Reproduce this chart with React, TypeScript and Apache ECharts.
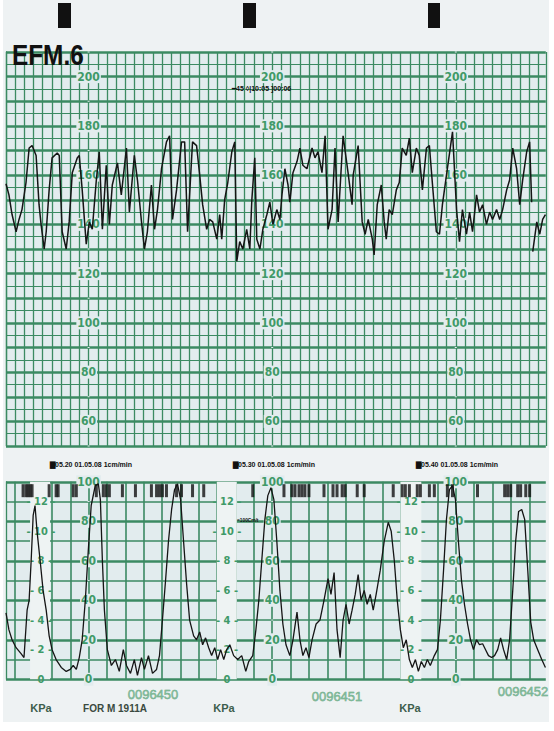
import React, { useEffect, useRef } from "react";
import * as echarts from "echarts";

// ---- Fetal heart rate trace (time in minutes, bpm) ----
const fhrTimeA = [
  0.0, 0.16, 0.33, 0.55, 0.71, 0.87, 1.09, 1.26, 1.42, 1.64, 1.8, 1.91, 2.08, 2.19, 2.35, 2.51, 2.79, 2.9,
  3.06, 3.28, 3.44, 3.61, 3.88, 3.99, 4.15, 4.37, 4.54, 4.7, 4.92, 5.08, 5.25, 5.46, 5.63, 5.79, 6.07, 6.28,
  6.56, 6.72, 6.99, 7.16, 7.38, 7.54, 7.7, 7.92, 8.09, 8.25, 8.47, 8.74, 8.91, 9.07, 9.29, 9.56, 9.73, 9.89,
  10.16, 10.38, 10.55, 10.71, 10.93, 11.09, 11.26, 11.48, 11.64, 11.75, 11.91, 12.08, 12.3, 12.46, 12.57,
  12.73, 12.9, 13.11, 13.28, 13.39, 13.55, 13.66, 13.83, 13.99, 14.21, 14.37, 14.54, 14.75, 14.92, 15.03,
  15.19, 15.36, 15.46, 15.63, 15.85, 16.01, 16.17, 16.39, 16.67, 16.83, 16.99, 17.21, 17.38, 17.54, 17.76,
  17.92, 18.09, 18.36, 18.63, 18.85, 18.91, 19.18, 19.4, 19.56, 19.73, 19.95, 20.05, 20.22, 20.44, 20.6,
  20.71, 20.87, 21.04, 21.26, 21.42, 21.58, 21.8, 21.97, 22.13, 22.35, 22.51, 22.68, 22.9, 23.06, 23.22,
  23.44, 23.61, 23.77, 24.04, 24.32, 24.54, 24.7, 24.86, 25.08, 25.25, 25.41, 25.63, 25.79, 25.96, 26.17,
  26.34, 26.5, 26.72, 26.89, 27.05, 27.27, 27.43, 27.6, 27.81, 27.98, 28.14, 28.36, 28.52, 28.63,
];
const fhrBpmA = [
  156.5, 152, 144, 137, 142, 146, 157, 171, 172, 168, 148, 140, 130, 137, 154, 167, 169, 168,
  137, 130, 141, 161, 167, 168, 154, 132, 141, 138, 158, 169.5, 138, 164, 140, 156, 165, 152,
  171, 145, 168, 158, 141, 130, 137, 156, 138, 146, 162.6, 173.5, 176, 142, 154, 173.5, 173.5, 137,
  173.5, 172, 160, 148, 138, 142, 141, 134, 144, 134, 150, 157, 169.5, 173.5, 125,
  133, 130, 138, 130, 150, 167, 134, 130, 138, 144, 149, 140, 146, 142, 152,
  162.6, 156, 149, 161, 165.5, 171, 164, 162.6, 171, 167, 169.5, 161, 176, 138, 146,
  171, 141, 176, 161, 148, 160, 172, 141, 136, 142, 134, 127.6, 148, 156, 141,
  134, 146, 144, 154, 157, 171, 168, 175, 161, 171, 168, 154, 171, 172, 157,
  137, 136, 148, 162.6, 177.6, 146, 133, 146, 136, 145, 137, 152, 145, 148, 140,
  145, 142, 146, 142, 146, 154, 158, 171, 162.6, 148, 158, 169.5, 173.5, 149,
];
const fhrTimeB = [28.69, 28.91, 29.07, 29.23, 29.38];
const fhrBpmB = [128.9, 141, 136, 142, 144];

// ---- Uterine contraction trace (time in minutes, mmHg scale 0-100) ----
const ucTime = [
  0, 0.16, 0.33, 0.55, 0.82, 0.98, 1.15, 1.26, 1.37, 1.48, 1.58, 1.69, 1.86, 2.02, 2.19, 2.35, 2.51, 2.73,
  3.01, 3.28, 3.5, 3.66, 3.83, 3.99, 4.15, 4.32, 4.48, 4.64, 4.86, 5.03, 5.14, 5.25, 5.36, 5.52, 5.74, 5.96,
  6.17, 6.39, 6.56, 6.78, 6.99, 7.16, 7.38, 7.54, 7.76, 7.98, 8.2, 8.36, 8.52, 8.69, 8.85, 9.02, 9.18, 9.34,
  9.51, 9.67, 9.84, 10.0, 10.22, 10.38, 10.55, 10.71, 10.87, 11.04, 11.2, 11.37, 11.53, 11.69, 11.86, 12.02,
  12.19, 12.4, 12.62, 12.84, 13.06, 13.22, 13.44, 13.61, 13.77, 13.93, 14.1, 14.26, 14.43, 14.59, 14.75,
  14.92, 15.08, 15.25, 15.46, 15.63, 15.85, 16.01, 16.17, 16.34, 16.5, 16.67, 16.89, 17.1, 17.32, 17.54,
  17.7, 17.87, 18.03, 18.2, 18.36, 18.52, 18.69, 18.85, 19.02, 19.18, 19.34, 19.51, 19.67, 19.84, 20.0,
  20.16, 20.38, 20.6, 20.82, 20.98, 21.15, 21.31, 21.48, 21.64, 21.8, 21.97, 22.13, 22.3, 22.46, 22.62,
  22.79, 22.95, 23.11, 23.33, 23.5, 23.66, 23.83, 23.99, 24.15, 24.32, 24.48, 24.64, 24.81, 24.97, 25.14,
  25.3, 25.46, 25.63, 25.79, 25.96, 26.12, 26.28, 26.45, 26.61, 26.78, 26.94, 27.1, 27.27, 27.43, 27.6,
  27.76, 27.92, 28.09, 28.25, 28.42, 28.58, 28.74, 28.96, 29.18, 29.38,
];
const ucValue = [
  33.6, 25, 20, 16, 13, 11, 35, 40, 60, 83, 88, 75, 60, 45, 35, 22, 15, 10,
  6, 4, 5, 7, 5, 11, 20, 40, 65, 88, 98, 99, 91, 60, 35, 15, 7, 10,
  4, 15, 7, 3, 10, 2, 11, 5, 12, 3, 5, 12, 30, 50, 70, 86, 96, 99,
  91, 70, 48, 30, 22, 20, 24, 17.5, 21, 16, 12, 16, 10, 15, 10, 15,
  17.5, 12, 10, 12, 4, 9, 12, 25, 40, 60, 81, 93, 97, 91, 70,
  45, 28, 17.5, 12, 20, 34, 20, 12, 16, 11, 20, 28, 30, 40, 51,
  43, 54, 25, 11, 30, 38, 28, 35, 43, 53, 40, 45, 38, 43, 35,
  43, 55, 70, 79.5, 75, 60, 40, 25, 16, 20, 10, 6, 10, 4, 9,
  6, 10, 7, 12, 15, 30, 55, 81, 96, 98, 91, 70, 50, 38, 28,
  20, 15, 20, 17.5, 18, 15, 12, 11, 12, 15, 21, 15, 10, 20, 45,
  70, 85, 86, 81, 55, 29, 20, 15, 10, 6,
];

// ---- Fetal movement marks (time in minutes) ----
const fmTime = [
  0.93, 1.09, 1.2, 1.31, 1.42, 2.35, 2.73, 2.84, 3.66, 3.83, 4.92, 5.3, 5.46, 5.63, 6.34, 7.05, 7.92, 8.2,
  8.36, 8.52, 8.74, 9.29, 9.56, 10.16, 10.77, 13.44, 15.14, 15.57, 15.74, 15.96, 16.12, 16.28, 16.5, 17.32,
  17.81, 18.03, 18.31, 18.47, 19.13, 19.51, 21.09, 21.58, 21.75, 21.97, 22.4, 22.57, 23.06, 23.33, 24.04,
  24.32, 25.68, 27.16, 27.32, 27.49, 27.87, 28.03, 28.31, 28.52,
];

// ---- Scales / tick labels ----
const fhrLabelTicks = [60, 80, 100, 120, 140, 160, 180, 200];
const ucLabelTicks = [0, 20, 40, 60, 80, 100];
const kpaLabelTicks = [0, 2, 4, 6, 8, 10, 12];
const sectionTimes = ["05.20", "05.30", "05.40"];
const stripNumbers = ["0096450", "0096451", "0096452"];

const GREEN = "#3b8a62";
const LABEL_GREEN = "#3f9a68";
const PAPER = "#e2ecee";
const BAND = "#eef3f3";
const NARROW = '"Liberation Sans Narrow", "DejaVu Sans Condensed", sans-serif';

export default function App() {
  const ref = useRef<HTMLDivElement>(null);

  useEffect(() => {
    if (!ref.current) return;
    const chart = echarts.init(ref.current, undefined, { renderer: "svg" });

    const X0 = 6;
    const PX_PER_MIN = 18.36;
    const XMAX = 29.4;
    const WIDTH = XMAX * PX_PER_MIN;
    const TOP_Y = 52;
    const TOP_H = 394;
    const BOT_Y = 481.8;
    const BOT_H = 197.5;

    const fhrA = fhrTimeA.map((t, i) => [t, fhrBpmA[i]]);
    const fhrB = fhrTimeB.map((t, i) => [t, fhrBpmB[i]]);
    const uc = ucTime.map((t, i) => [t, ucValue[i]]);
    const fm = fmTime.map((t) => [t, 95.5]);

    const labelAxis = (grid: number, min: number, max: number, interval: number, xpx: number, fmt: (v: number) => string, bg: string, size = 12) => ({
      type: "value",
      gridIndex: grid,
      min,
      max,
      interval,
      position: "left",
      offset: -(xpx - X0),
      z: 3,
      axisLine: { show: false },
      axisTick: { show: false },
      splitLine: { show: false },
      axisLabel: {
        show: true,
        margin: 0,
        align: "center",
        verticalAlign: "middle",
        formatter: fmt,
        color: LABEL_GREEN,
        fontFamily: NARROW,
        fontWeight: "bold",
        fontSize: size,
        backgroundColor: bg,
        padding: [1, 1, 0, 1],
        showMinLabel: true,
        showMaxLabel: true,
      },
    });

    const fhrFmt = (v: number) => (fhrLabelTicks.includes(v) ? String(v) : "");
    const ucFmt = (v: number) => (ucLabelTicks.includes(v) ? String(v) : "");
    const kpaFmt = (v: number) => (kpaLabelTicks.includes(v) ? (v === 0 ? String(v) : "- " + v + " -") : "");

    const labelCols = [88.6, 272.2, 455.8];
    const kpaCols = [41, 227, 411];
    const bands = [
      [1.31, 2.4],
      [11.48, 12.57],
      [21.48, 22.62],
    ];

    const yAxes: any[] = [
      {
        type: "value",
        gridIndex: 0,
        min: 50,
        max: 210,
        interval: 10,
        position: "right",
        axisLine: { show: true, lineStyle: { color: GREEN, width: 1.3 } },
        axisTick: { show: false },
        axisLabel: { show: false },
        splitLine: { show: true, lineStyle: { color: GREEN, width: 2.6 } },
        minorTick: { show: false, splitNumber: 2 },
        minorSplitLine: { show: true, lineStyle: { color: GREEN, width: 1 } },
      },
      {
        type: "value",
        gridIndex: 1,
        min: 0,
        max: 100,
        interval: 20,
        position: "right",
        axisLine: { show: true, lineStyle: { color: GREEN, width: 1.3 } },
        axisTick: { show: false },
        axisLabel: { show: false },
        splitLine: { show: true, lineStyle: { color: GREEN, width: 2.6 } },
        minorTick: { show: false, splitNumber: 2 },
        minorSplitLine: { show: true, lineStyle: { color: GREEN, width: 1.6 } },
      },
      {
        type: "value",
        gridIndex: 2,
        min: 0,
        max: 100,
        show: false,
      },
    ];
    labelCols.forEach((c) => yAxes.push(labelAxis(0, 50, 210, 10, c, fhrFmt, PAPER)));
    labelCols.forEach((c) => yAxes.push(labelAxis(1, 0, 100, 10, c, ucFmt, PAPER)));
    kpaCols.forEach((c) => yAxes.push(labelAxis(1, 0, 100 / 7.5, 2, c, kpaFmt, "transparent", 11)));

    const option: any = {
      animation: false,
      backgroundColor: "#ffffff",
      grid: [
        { left: X0, top: TOP_Y, width: WIDTH, height: TOP_H, show: true, backgroundColor: PAPER, borderWidth: 0 },
        { left: X0, top: BOT_Y, width: WIDTH, height: BOT_H, show: true, backgroundColor: PAPER, borderWidth: 0 },
        { left: X0 + PX_PER_MIN / 2, top: BOT_Y, width: 28 * PX_PER_MIN, height: BOT_H, show: false },
      ],
      xAxis: [
        {
          type: "value",
          gridIndex: 0,
          min: 0,
          max: XMAX,
          interval: 0.5,
          axisLine: { show: false },
          axisTick: { show: false },
          axisLabel: { show: false },
          splitLine: { show: true, lineStyle: { color: GREEN, width: 1.3 } },
        },
        {
          type: "value",
          gridIndex: 1,
          min: 0,
          max: XMAX,
          interval: 1,
          axisLine: { show: false },
          axisTick: { show: false },
          axisLabel: { show: false },
          splitLine: { show: false },
        },
        {
          type: "value",
          gridIndex: 2,
          min: 0,
          max: 28,
          interval: 1,
          axisLine: { show: false },
          axisTick: { show: false },
          axisLabel: { show: false },
          splitLine: { show: true, lineStyle: { color: GREEN, width: 1.6 } },
        },
      ],
      yAxis: yAxes,
      series: [
        {
          type: "line",
          name: "bands",
          xAxisIndex: 1,
          yAxisIndex: 1,
          data: [[0, -10]],
          showSymbol: false,
          lineStyle: { opacity: 0 },
          silent: true,
          z: 1,
          markArea: {
            silent: true,
            itemStyle: { color: BAND },
            data: bands.map((b) => [{ xAxis: b[0], yAxis: 0 }, { xAxis: b[1], yAxis: 100 }]),
          },
        },
        {
          type: "line",
          name: "FHR",
          xAxisIndex: 0,
          yAxisIndex: 0,
          data: fhrA,
          showSymbol: false,
          lineStyle: { color: "#151515", width: 1.5 },
          z: 5,
        },
        {
          type: "line",
          name: "FHR2",
          xAxisIndex: 0,
          yAxisIndex: 0,
          data: fhrB,
          showSymbol: false,
          lineStyle: { color: "#151515", width: 1.5 },
          z: 5,
        },
        {
          type: "line",
          name: "UC",
          xAxisIndex: 1,
          yAxisIndex: 1,
          data: uc,
          showSymbol: false,
          lineStyle: { color: "#151515", width: 1.3 },
          z: 5,
        },
        {
          type: "scatter",
          name: "FM",
          xAxisIndex: 1,
          yAxisIndex: 1,
          data: fm,
          symbol: "rect",
          symbolSize: [3, 13],
          itemStyle: { color: "#111" },
          z: 6,
        },
      ],
      graphic: [
        { type: "rect", z: -100, shape: { x: 3, y: 0, width: 546, height: 722 }, style: { fill: "#eef2f3" } },
        { type: "rect", z: 50, shape: { x: 58, y: 3, width: 13, height: 25 }, style: { fill: "#111" } },
        { type: "rect", z: 50, shape: { x: 243, y: 3, width: 13, height: 25 }, style: { fill: "#111" } },
        { type: "rect", z: 50, shape: { x: 428, y: 3, width: 12, height: 25 }, style: { fill: "#111" } },
        {
          type: "text",
          z: 50,
          x: 12,
          y: 41,
          scaleX: 0.84,
          style: { text: "EFM.6", font: 'bold 29px "Liberation Sans Narrow", sans-serif', fill: "#111", align: "left", verticalAlign: "top" },
        },
        {
          type: "text",
          z: 50,
          x: 232,
          y: 85,
          style: { text: "━45 ◊|10:05 ]00:06", font: 'bold 7px "Liberation Sans Narrow", sans-serif', fill: "#111", align: "left", verticalAlign: "top" },
        },
        ...sectionTimes.map((s, i) => ({
          type: "text",
          z: 50,
          x: [50, 233, 416][i],
          y: 461,
          style: { text: "▇" + s + " 01.05.08 1cm/min", font: 'bold 7px "Liberation Sans Narrow", sans-serif', fill: "#111", align: "left", verticalAlign: "top" },
        })),
        {
          type: "text",
          z: 50,
          x: 237,
          y: 517,
          scaleX: 0.8,
          style: { text: "=100Cm/t", font: 'bold 6px "Liberation Sans Narrow", sans-serif', fill: "#111", align: "left", verticalAlign: "top" },
        },
        ...[41, 224, 410].map((x) => ({
          type: "text",
          z: 50,
          x,
          y: 708,
          style: { text: "KPa", font: 'bold 11px "Liberation Sans Narrow", sans-serif', fill: "#3d5e4c", align: "center", verticalAlign: "middle" },
        })),
        {
          type: "text",
          z: 50,
          x: 115,
          y: 708,
          style: { text: "FOR M 1911A", font: 'bold 10px "Liberation Sans Narrow", sans-serif', fill: "#3a4a40", align: "center", verticalAlign: "middle" },
        },
        ...stripNumbers.map((s, i) => ({
          type: "text",
          z: 50,
          x: [153, 337, 523][i],
          y: [694, 696, 691][i],
          style: { text: s, font: '13px "Liberation Sans Narrow", sans-serif', fill: "#7db896", stroke: "#4d9870", lineWidth: 0.4, align: "center", verticalAlign: "middle" },
        })),
      ],
    };

    chart.setOption(option);
    return () => chart.dispose();
  }, []);

  return <div ref={ref} style={{ position: "absolute", left: 0, top: 0, width: 554, height: 731 }} />;
}
